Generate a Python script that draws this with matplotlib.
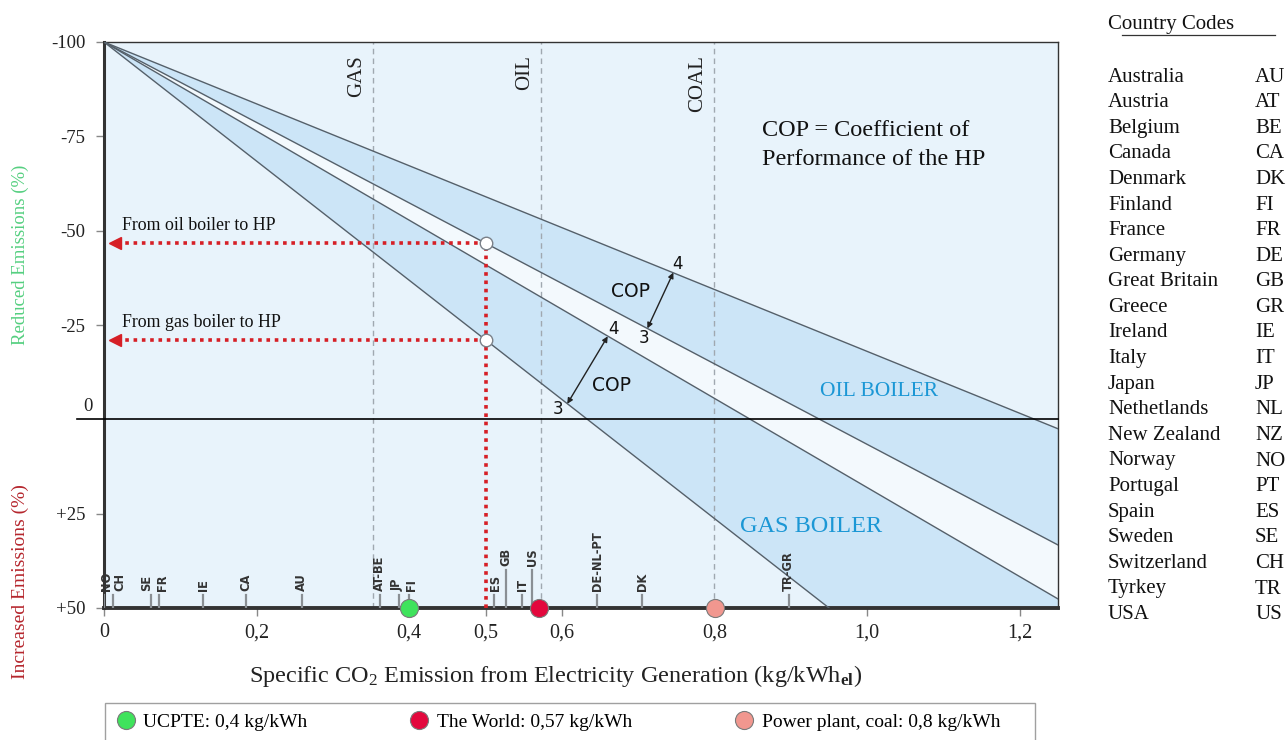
import numpy as np
import matplotlib.pyplot as plt
from matplotlib.lines import Line2D
from matplotlib.patches import Rectangle
import matplotlib.transforms as mtrans

plt.rcParams['font.family'] = ['Liberation Serif', 'DejaVu Serif']
plt.rcParams['mathtext.fontset'] = 'custom'
plt.rcParams['mathtext.rm'] = 'Liberation Serif'
plt.rcParams['mathtext.it'] = 'Liberation Serif:italic'
plt.rcParams['mathtext.bf'] = 'Liberation Serif:bold'

W, H = 1287, 740

# --- COP lines: all start at (0, -100), end where they leave the plot ---
line_start = (0.0, -100.0)
gas_cop3_end = (0.95, 50.0)
gas_cop4_end = (1.25, 47.6)
oil_cop3_end = (1.25, 33.3)
oil_cop4_end = (1.25, 2.5)

# vertical reference lines (fuel type)
fuel_names = ['GAS', 'OIL', 'COAL']
fuel_x = [0.352, 0.572, 0.799]

# countries along the x axis
country_labels = ['NO', 'CH', 'SE', 'FR', 'IE', 'CA', 'AU', 'AT-BE', 'JP', 'FI',
                  'ES', 'GB', 'IT', 'US', 'DE-NL-PT', 'DK', 'TR-GR']
country_x = [0.0, 0.012, 0.061, 0.072, 0.13, 0.186, 0.259, 0.361, 0.387, 0.399,
             0.511, 0.527, 0.548, 0.561, 0.646, 0.705, 0.897]
country_tall = ['GB', 'US']
# small sideways nudges (px) so crowded labels do not collide
label_nudge = {'NO': 2, 'CH': 7, 'SE': -4, 'FR': 3.5, 'JP': -2, 'FI': 2.5, 'ES': 1.5}

# reference emission points
ref_labels = ['UCPTE: 0,4 kg/kWh', 'The World: 0,57 kg/kWh', 'Power plant, coal: 0,8 kg/kWh']
ref_x = [0.4, 0.57, 0.8]
ref_colors = ['#3fe35c', '#e3083d', '#f1978f']

# worked example at 0.5 kg/kWh
example_x = 0.5
example_y = [-46.7, -21.0]
example_labels = ['From oil boiler to HP', 'From gas boiler to HP']

# COP arrows (point on COP=4 line, point on COP=3 line)
cop_oil = [(0.746, -38.9), (0.712, -24.1)]
cop_gas = [(0.660, -22.0), (0.607, -4.1)]

xticks = [0, 0.2, 0.4, 0.5, 0.6, 0.8, 1.0, 1.2]
xtick_labels = ['0', '0,2', '0,4', '0,5', '0,6', '0,8', '1,0', '1,2']
yticks = [-100, -75, -50, -25, 25, 50]
ytick_labels = ['-100', '-75', '-50', '-25', '+25', '+50']

countries = ['Australia', 'Austria', 'Belgium', 'Canada', 'Denmark', 'Finland', 'France',
             'Germany', 'Great Britain', 'Greece', 'Ireland', 'Italy', 'Japan', 'Nethetlands',
             'New Zealand', 'Norway', 'Portugal', 'Spain', 'Sweden', 'Switzerland', 'Tyrkey', 'USA']
codes = ['AU', 'AT', 'BE', 'CA', 'DK', 'FI', 'FR', 'DE', 'GB', 'GR', 'IE', 'IT', 'JP', 'NL',
         'NZ', 'NO', 'PT', 'ES', 'SE', 'CH', 'TR', 'US']

fig = plt.figure(figsize=(W / 100, H / 100), dpi=100)
ax = fig.add_axes([104 / W, 1 - 608 / H, (1058 - 104) / W, (608 - 42) / H])
ax.set_xlim(0, 1.25)
ax.set_ylim(50, -100)
ax.set_facecolor('#e8f3fb')

band_blue = '#cce5f7'
# gas boiler band
ax.fill([line_start[0], gas_cop3_end[0], 1.25, gas_cop4_end[0]],
        [line_start[1], gas_cop3_end[1], 50, gas_cop4_end[1]], color=band_blue, lw=0, zorder=1)
# gap between gas COP4 and oil COP3
ax.fill([line_start[0], gas_cop4_end[0], oil_cop3_end[0]],
        [line_start[1], gas_cop4_end[1], oil_cop3_end[1]], color='#f3f9fd', lw=0, zorder=1)
# oil boiler band
ax.fill([line_start[0], oil_cop3_end[0], oil_cop4_end[0]],
        [line_start[1], oil_cop3_end[1], oil_cop4_end[1]], color=band_blue, lw=0, zorder=1)

for end in [gas_cop3_end, gas_cop4_end, oil_cop3_end, oil_cop4_end]:
    ax.plot([line_start[0], end[0]], [line_start[1], end[1]], color='#55606a', lw=1.0, zorder=3)

# fuel reference lines
for name, x in zip(fuel_names, fuel_x):
    ax.axvline(x, color='#a0a8b0', lw=1.0, ls=(0, (4, 3)), zorder=2)
    ax.text(x - 0.021, -96.5, name, rotation=90, ha='center', va='top', fontsize=15,
            color='#222222', zorder=4)

# zero line, extends left of the axis
ax.axhline(0, xmin=-0.028, xmax=1, color='black', lw=1.2, clip_on=False, zorder=3)
tr = mtrans.blended_transform_factory(ax.transAxes, ax.transData)
ax.text(-0.017, -3.5, '0', transform=tr, ha='center', va='center', fontsize=13.5,
        color='#222222')

# country ticks
for lab, x in zip(country_labels, country_x):
    h = 10.0 if lab in country_tall else 3.4
    ax.plot([x, x], [50, 50 - h], color='#8a8f94', lw=1.6, zorder=4)
    off = mtrans.offset_copy(ax.transData, fig=fig, x=label_nudge.get(lab, 0), y=0,
                             units='dots')
    ax.text(x, 50 - h - 1.2, lab, rotation=90, ha='center', va='bottom', fontsize=8.3,
            family='DejaVu Sans', fontweight='bold', color='#333333', zorder=4,
            transform=off)

# worked example (red dotted)
red = '#d61f26'
ax.plot([example_x, example_x], [50, example_y[0]], color=red, lw=2.6, ls=(0, (1, 1.3)),
        zorder=5)
for y, lab in zip(example_y, example_labels):
    ax.plot([example_x, 0.015], [y, y], color=red, lw=2.6, ls=(0, (1, 1.3)), zorder=5)
    ax.plot(0.014, y, marker='<', color=red, markersize=8, zorder=6)
    ax.text(0.024, y - 2.5, lab, ha='left', va='bottom', fontsize=12.9, color='#111111',
            zorder=6)
    ax.plot(example_x, y, marker='o', markersize=9, mfc='white', mec='#7a8088', mew=1.0,
            zorder=7)

# COP arrows
num_kw = dict(fontsize=12, ha='center', va='center', family='DejaVu Sans', color='#111111')
for pts, d4, d3 in [(cop_oil, (0.005, -2.3), (-0.005, 2.6)),
                    (cop_gas, (0.008, -2.0), (-0.012, 1.4))]:
    p4, p3 = pts
    ax.annotate('', xy=p3, xytext=p4,
                arrowprops=dict(arrowstyle='<|-|>', color='#222222', lw=1.0,
                                mutation_scale=8, shrinkA=0, shrinkB=0), zorder=6)
    ax.text(p4[0] + d4[0], p4[1] + d4[1], '4', **num_kw)
    ax.text(p3[0] + d3[0], p3[1] + d3[1], '3', **num_kw)
ax.text(0.690, -34.0, 'COP', fontsize=13.5, ha='center', va='center', family='DejaVu Sans',
        color='#111111')
ax.text(0.665, -9.0, 'COP', fontsize=13.5, ha='center', va='center', family='DejaVu Sans',
        color='#111111')

ax.text(0.862, -72.6, 'COP = Coefficient of\nPerformance of the HP', fontsize=17.5,
        ha='left', va='center', linespacing=1.5, color='#111111')
ax.text(1.016, -7.5, 'OIL BOILER', fontsize=15.5, ha='center', va='center', color='#1b97d5')
ax.text(0.927, 28.5, 'GAS BOILER', fontsize=17.5, ha='center', va='center', color='#1b97d5')

# reference points on the axis
for x, c in zip(ref_x, ref_colors):
    ax.plot(x, 50, marker='o', markersize=13, mfc=c, mec='#7a7a7a', mew=0.8,
            clip_on=False, zorder=8)

ax.set_xticks(xticks)
ax.set_xticklabels(xtick_labels, fontsize=14.5)
ax.set_yticks(yticks)
ax.set_yticklabels(ytick_labels, fontsize=13.5)
ax.tick_params(axis='both', length=6, width=1, color='#888888', labelcolor='#222222')
ax.tick_params(axis='x', pad=5)
ax.tick_params(axis='y', pad=7.5)
for s in ['top', 'right']:
    ax.spines[s].set_linewidth(1.0)
    ax.spines[s].set_color('#333333')
ax.spines['left'].set_linewidth(2.2)
ax.spines['bottom'].set_linewidth(2.8)
ax.spines['left'].set_color('#333333')
ax.spines['bottom'].set_color('#333333')

fig.text(556 / W, 1 - 676 / H,
         'Specific CO$_2$ Emission from Electricity Generation (kg/kWh$_{\\mathbf{el}}$)',
         ha='center', va='center', fontsize=17.5, color='#222222')
fig.text(20 / W, 1 - 255 / H, 'Reduced Emissions (%)', rotation=90, ha='center',
         va='center', fontsize=13.5, color='#55cf80')
fig.text(20 / W, 1 - 582 / H, 'Increased Emissions (%)', rotation=90, ha='center',
         va='center', fontsize=14, color='#b5262d')

# legend strip at the bottom: box drawn separately, entries without frame
box_top, box_left, box_right = 703, 105, 1035
fig.add_artist(Rectangle((box_left / W, -5 / H), (box_right - box_left) / W,
                         (H - box_top + 5) / H, transform=fig.transFigure,
                         facecolor='white', edgecolor='#a0a0a0', lw=1.0, zorder=0))
handles = [Line2D([], [], ls='none', marker='o', markersize=13, mfc=c, mec='#7a7a7a',
                  mew=0.8) for c in ref_colors]
fig.legend(handles, ref_labels, loc='center left', ncol=3,
           bbox_to_anchor=(116 / W, 1 - 722 / H), frameon=False,
           fontsize=14, handlelength=1.0, handletextpad=0.4, borderpad=0,
           columnspacing=5.26, borderaxespad=0)

# country code table
tbl_size = 15
fig.text(1108 / W, 1 - 25 / H, 'Country Codes', ha='left', va='center', fontsize=tbl_size,
         color='#111111')
fig.add_artist(Line2D([1122 / W, 1275 / W], [1 - 35 / H, 1 - 35 / H], color='#333333',
                      lw=0.9))
for i, (name, code) in enumerate(zip(countries, codes)):
    y = 1 - (77 + i * 25.6) / H
    fig.text(1108 / W, y, name, ha='left', va='center', fontsize=tbl_size, color='#111111')
    fig.text(1255 / W, y, code, ha='left', va='center', fontsize=tbl_size, color='#111111')

fig.savefig('out.png', dpi=100)
